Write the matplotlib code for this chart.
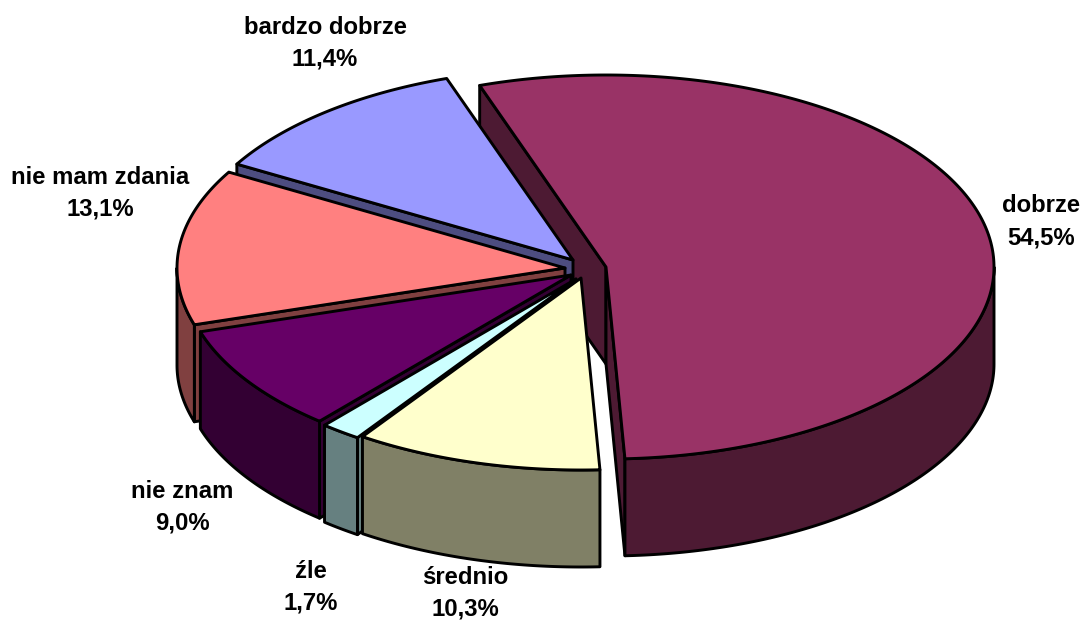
import numpy as np
import matplotlib
matplotlib.use("Agg")
import matplotlib.pyplot as plt

# data
categories = ["dobrze", "średnio", "źle", "nie znam", "nie mam zdania", "bardzo dobrze"]
values = [54.5, 10.3, 1.7, 9.0, 13.1, 11.4]
value_labels = ["54,5%", "10,3%", "1,7%", "9,0%", "13,1%", "11,4%"]

# style / layout
top_colors = ["#993366", "#FFFFCC", "#CCFFFF", "#660066", "#FF8080", "#9999FF"]
wall_colors = ["#4D1A33", "#808066", "#668080", "#330033", "#804040", "#4D4D80"]
apexes = [(606, 267), (581, 278), (576, 279), (571, 275), (565, 268), (573, 260)]
label_pos = [(1041, 222), (465, 593), (311, 587), (182, 507), (100, 193), (325, 43)]
draw_order = [0, 5, 4, 3, 2, 1]
START = -19.0
RX, RY, DEPTH = 388.0, 192.0, 97.0
LW = 2.1

plt.rcParams["font.family"] = ["Liberation Sans", "DejaVu Sans"]
fig = plt.figure(figsize=(10.82, 6.21), dpi=100)
ax = fig.add_axes([0, 0, 1, 1])
ax.set_xlim(0, 1082)
ax.set_ylim(621, 0)
ax.axis("off")


def rim(apex, deg):
    a = np.radians(deg)
    return apex[0] + RX * np.sin(a), apex[1] - RY * np.cos(a)


def poly(xs, ys, color):
    ax.fill(xs, ys, facecolor=color, edgecolor="black", linewidth=LW, joinstyle="round")


def cut_wall(apex, deg, color):
    x, y = rim(apex, deg)
    poly([apex[0], x, x, apex[0]], [apex[1], y, y + DEPTH, apex[1] + DEPTH], color)


bounds = START + np.concatenate([[0], np.cumsum(values)]) * 3.6

for i in draw_order:
    a0, a1 = bounds[i], bounds[i + 1]
    apex = apexes[i]
    # radial walls turned to the viewer
    if np.sin(np.radians(a0)) < 0:
        cut_wall(apex, a0, wall_colors[i])
    if np.sin(np.radians(a1)) > 0:
        cut_wall(apex, a1, wall_colors[i])
    # outer wall: front half of the rim
    lo, hi = max(a0, 90.0), min(a1, 270.0)
    if hi > lo:
        t = np.linspace(lo, hi, 120)
        x, y = rim(apex, t)
        poly(np.r_[x, x[::-1]], np.r_[y, y[::-1] + DEPTH], wall_colors[i])
    # top face
    t = np.linspace(a0, a1, 240)
    x, y = rim(apex, t)
    poly(np.r_[apex[0], x], np.r_[apex[1], y], top_colors[i])

for name, lab, (x, y) in zip(categories, value_labels, label_pos):
    ax.text(x, y, f"{name}\n{lab}", ha="center", va="center", fontsize=17.2,
            fontweight="bold", color="black", linespacing=1.5, clip_on=False)

fig.savefig("out.png", dpi=100, facecolor="white")
